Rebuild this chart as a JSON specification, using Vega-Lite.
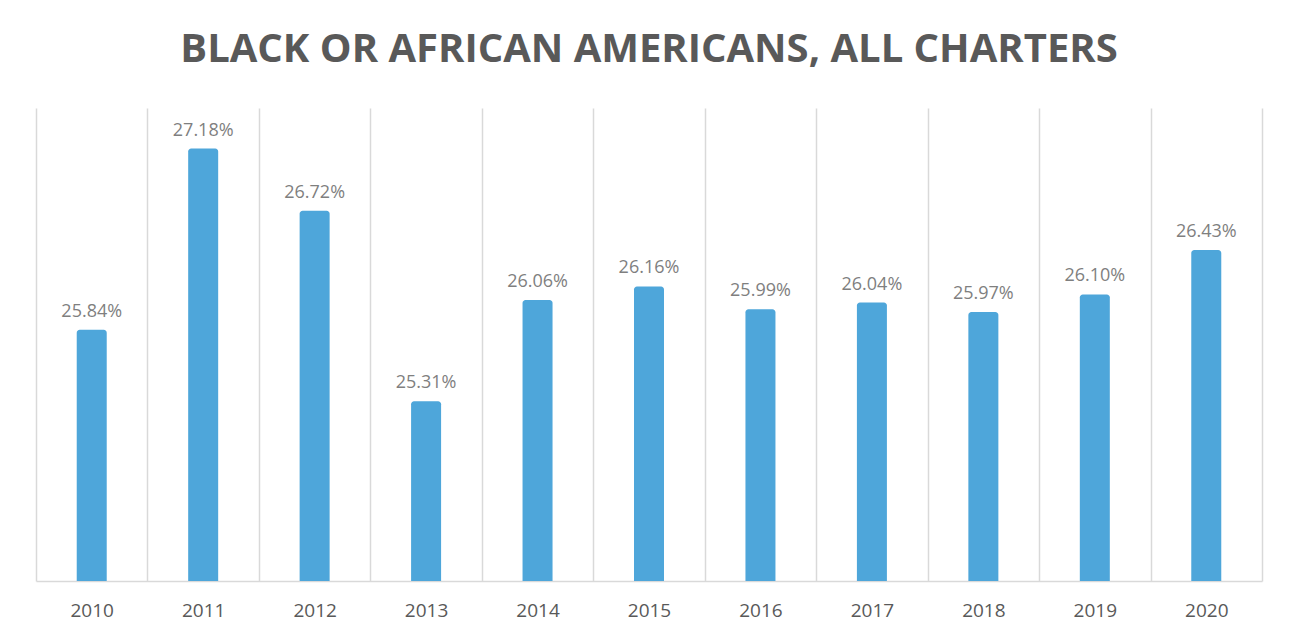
{
  "$schema": "https://vega.github.io/schema/vega-lite/v6.json",
  "width": 1226,
  "height": 473,
  "autosize": {"type": "none"},
  "padding": {"left": 36, "top": 108, "right": 30, "bottom": 53},
  "background": "white",
  "title": {
    "text": "BLACK OR AFRICAN AMERICANS, ALL CHARTERS",
    "font": "Open Sans",
    "fontSize": 40,
    "fontWeight": "bold",
    "color": "#595959",
    "anchor": "middle",
    "baseline": "alphabetic",
    "offset": 6
  },
  "config": {
    "view": {"stroke": null},
    "font": "Open Sans"
  },
  "data": {
    "values": [
      {"year": "2010", "share": 0.2584},
      {"year": "2011", "share": 0.2718},
      {"year": "2012", "share": 0.2672},
      {"year": "2013", "share": 0.2531},
      {"year": "2014", "share": 0.2606},
      {"year": "2015", "share": 0.2616},
      {"year": "2016", "share": 0.2599},
      {"year": "2017", "share": 0.2604},
      {"year": "2018", "share": 0.2597},
      {"year": "2019", "share": 0.2610},
      {"year": "2020", "share": 0.2643}
    ]
  },
  "encoding": {
    "x": {
      "field": "year",
      "type": "ordinal",
      "scale": {"paddingInner": 0, "paddingOuter": 0},
      "axis": {
        "title": null,
        "labelAngle": 0,
        "labelFont": "Open Sans",
        "labelFontSize": 19,
        "labelColor": "#595959",
        "labelBaseline": "alphabetic",
        "labelPadding": 35,
        "ticks": false,
        "grid": true,
        "gridColor": "#d9d9d9",
        "gridWidth": 1.5,
        "tickBand": "extent",
        "domainColor": "#d9d9d9",
        "domainWidth": 1.5
      }
    },
    "y": {
      "field": "share",
      "type": "quantitative",
      "scale": {"domain": [0.2398, 0.2748], "zero": false, "nice": false},
      "axis": null
    }
  },
  "layer": [
    {
      "mark": {"type": "bar", "width": 30, "color": "#4EA6DA", "cornerRadiusTopLeft": 3, "cornerRadiusTopRight": 3},
      "encoding": {"y2": {"datum": 0.2398}}
    },
    {
      "mark": {"type": "text", "dy": -13, "baseline": "alphabetic", "fontSize": 18, "color": "#7F7F7F", "font": "Open Sans"},
      "encoding": {"text": {"field": "share", "type": "quantitative", "format": ".2%"}}
    }
  ]
}
